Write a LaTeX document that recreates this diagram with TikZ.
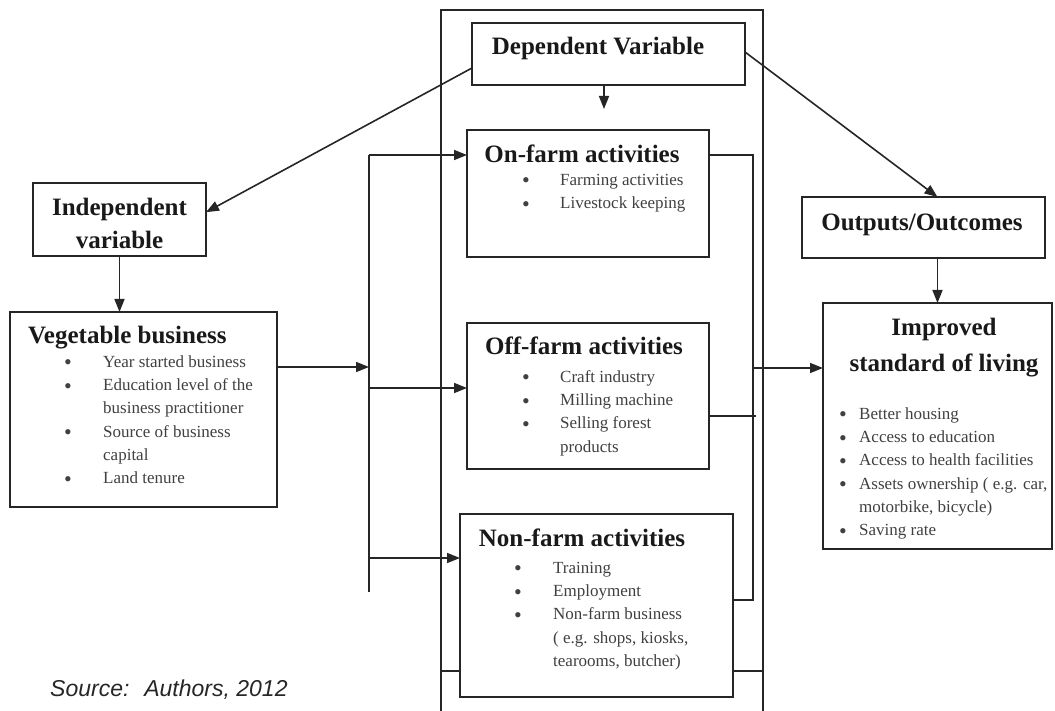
\documentclass[tikz,border=0pt]{standalone}
\usepackage{fontspec}
\setmainfont{Liberation Serif}
\newfontfamily\srcfont{Liberation Sans}
\usetikzlibrary{arrows.meta,calc}
\newcommand{\bdot}{\smash{\raisebox{-2.5pt}{\fontsize{22}{22}\selectfont\textbullet}}}
\begin{document}
\begin{tikzpicture}[x=1pt,y=-1pt,
  box/.style={draw=black!85,line width=2pt,anchor=north west,inner sep=0pt,outer sep=0pt},
  ttl/.style={font=\fontsize{25}{30}\selectfont\bfseries,text=black!90,inner sep=0pt,anchor=base},
  lst/.style={font=\fontsize{17}{23.3}\selectfont,text=black!75,inner sep=0pt,anchor=north west},
  conn/.style={draw=black!85,line width=1.6pt},
  arr/.style={conn,-{Triangle[length=13pt,width=10pt]}},
]
\useasboundingbox (0,0) rectangle (1055,711);

% boxes
\node[box,minimum width=273pt,minimum height=62pt] (DV) at (472,23) {};
\node[box,minimum width=242pt,minimum height=127pt] (ON) at (467,130) {};
\node[box,minimum width=242pt,minimum height=146pt] (OFF) at (467,323) {};
\node[box,minimum width=273pt,minimum height=183pt] (NON) at (460,514) {};
\node[box,minimum width=173pt,minimum height=73pt] (IND) at (33,183) {};
\node[box,minimum width=267pt,minimum height=195pt] (VEG) at (10,312) {};
\node[box,minimum width=243pt,minimum height=61pt] (OUT) at (802,197) {};
\node[box,minimum width=229pt,minimum height=246pt] (IMP) at (823,303) {};

% titles
\node[ttl] (dvT) at (598,55) {Dependent Variable};
\node[ttl] (onT) at (582,163) {On-farm activities};
\node[ttl] (offT) at (584,355) {Off-farm activities};
\node[ttl] (nonT) at (582,546) {Non-farm activities};
\node[ttl,anchor=center,align=center,font=\fontsize{25}{33}\selectfont\bfseries] (indT) at (119.5,223) {Independent\\variable};
\node[ttl,anchor=base west] (vegT) at (28,344) {Vegetable business};
\node[ttl] (outT) at (922,231) {Outputs/Outcomes};
\node[ttl] (impT1) at (944,336) {Improved};
\node[ttl] (impT2) at (944,371) {standard of living};

% lists
\node[lst] (vegL) at (64,350.7) {\begin{tabular}{@{}p{39pt}@{}l@{}}
\bdot & Year started business\\
\bdot & Education level of the\\
 & business practitioner\\
\bdot & Source of business\\
 & capital\\
\bdot & Land tenure
\end{tabular}};
\node[lst] (onL) at (522,168.7) {\begin{tabular}{@{}p{38pt}@{}l@{}}
\bdot & Farming activities\\
\bdot & Livestock keeping
\end{tabular}};
\node[lst] (offL) at (522,365.7) {\begin{tabular}{@{}p{38pt}@{}l@{}}
\bdot & Craft industry\\
\bdot & Milling machine\\
\bdot & Selling forest\\
 & products
\end{tabular}};
\node[lst] (nonL) at (514,556.7) {\begin{tabular}{@{}p{39pt}@{}l@{}}
\bdot & Training\\
\bdot & Employment\\
\bdot & Non-farm business\\
 & ( e.g. shops, kiosks,\\
 & tearooms, butcher)
\end{tabular}};
\node[lst] (impL) at (839,402.7) {\begin{tabular}{@{}p{20pt}@{}l@{}}
\bdot & Better housing\\
\bdot & Access to education\\
\bdot & Access to health facilities\\
\bdot & Assets ownership ( e.g. car,\\
 & motorbike, bicycle)\\
\bdot & Saving rate
\end{tabular}};

\node[font=\srcfont\itshape\fontsize{23}{28}\selectfont,text=black!85,inner sep=0pt,anchor=base west] (src) at (50,696) {Source:~ Authors, 2012};

% frame
\coordinate (frBL) at (441,711);
\coordinate (frTL) at (441,10);
\coordinate (frTR) at (763,10);
\coordinate (frBR) at (763,711);
\draw[conn] (frBL) -- (frTL) -- (frTR) -- (frBR);
\coordinate (nb) at (0,671);
\draw[conn] (nb -| frTL) -- (nb -| NON.west);
\draw[conn] (nb -| NON.east) -- (nb -| frTR);

% dependent variable arrows
\coordinate (dvL) at (472,68);
\coordinate (dvR) at (746,52);
\coordinate (dvD) at (604,109);
\coordinate (outN) at ($(OUT.north)+(14,0)$);
\coordinate (outS) at ($(OUT.south)+(14,0)$);
\draw[arr] (DV.west |- dvL) -- ($(IND.north east)!0.4!(IND.south east)$);
\draw[arr] (DV.east |- dvR) -- (outN);
\draw[arr] (dvD |- DV.south) -- (dvD);
\draw[arr] (outS) -- (outS |- IMP.north);
\draw[arr] (IND.south) -- (IND.south |- VEG.north);

% left bus
\coordinate (lbT) at (369,155);
\coordinate (lbB) at (369,592);
\coordinate (lbV) at (369,367);
\coordinate (lbO) at (369,388);
\coordinate (lbN) at (369,558);
\draw[conn] (lbT) -- (lbB);
\draw[arr] (lbV -| VEG.east) -- (lbV);
\draw[arr] (lbT) -- (lbT -| ON.west);
\draw[arr] (lbO) -- (lbO -| OFF.west);
\draw[arr] (lbN) -- (lbN -| NON.west);

% right bus
\coordinate (rbT) at (753,155);
\coordinate (rbB) at (753,600);
\coordinate (rbM) at (753,368);
\coordinate (offR) at (756,416);
\draw[conn] (rbT -| ON.east) -- (rbT) -- (rbB) -- (rbB -| NON.east);
\draw[conn] (offR -| OFF.east) -- (offR);
\draw[arr] (rbM) -- (rbM -| IMP.west);
\end{tikzpicture}
\end{document}
